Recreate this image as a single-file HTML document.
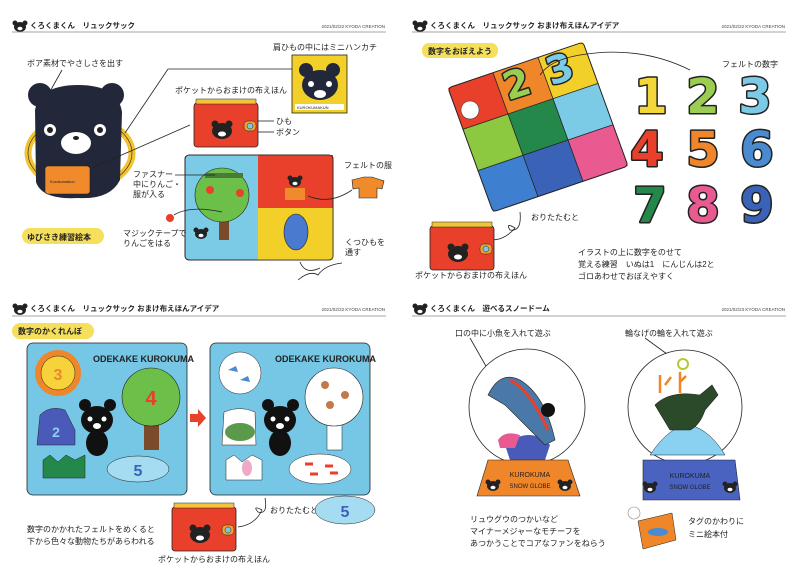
<!DOCTYPE html>
<html><head><meta charset="utf-8"><style>
body{margin:0;background:#fff}
svg{display:block}
text{font-family:"Liberation Sans","Noto Sans CJK JP",sans-serif;fill:#222}
.s{font-size:8px}
.h{font-size:7.5px;font-weight:bold}
.d{font-size:4.5px;fill:#444}
.n{font-family:"DejaVu Sans",sans-serif;font-weight:bold;font-size:48px;stroke:#222;stroke-width:3;paint-order:stroke;stroke-linejoin:round}
.ln{stroke:#222;stroke-width:0.8;fill:none}
</style></head><body>
<svg width="800" height="581" viewBox="0 0 800 581" xmlns="http://www.w3.org/2000/svg">
<defs>
<g id="bi"><ellipse cx="0" cy="0" rx="6" ry="5" fill="#222"/><circle cx="-5" cy="-4" r="2.5" fill="#222"/><circle cx="5" cy="-4" r="2.5" fill="#222"/><ellipse cx="0" cy="1.5" rx="2.5" ry="1.8" fill="#fff"/></g>
<g id="book"><rect x="0" y="0" width="64" height="44" rx="3" fill="#e8402a" stroke="#222" stroke-width="0.8"/><rect x="2" y="-4" width="60" height="5" fill="#f3c43a" stroke="#222" stroke-width="0.5"/><ellipse cx="28" cy="28" rx="10" ry="8" fill="#222"/><circle cx="21" cy="21" r="3.5" fill="#222"/><circle cx="35" cy="21" r="3.5" fill="#222"/><ellipse cx="28" cy="31" rx="4" ry="2.5" fill="#fff"/><rect x="50" y="18" width="12" height="10" rx="4" fill="#f3a030" stroke="#222" stroke-width="0.5"/><circle cx="56" cy="23" r="3" fill="#7cc8e0" stroke="#222" stroke-width="0.5"/></g>
</defs>

<!-- ============ Q1 ============ -->
<use href="#bi" x="20" y="27"/>
<text x="30" y="28" class="h">くろくまくん　リュックサック</text>
<text x="385" y="28" class="d" text-anchor="end">2021/02/22 KYODA CREATION</text>
<line x1="12" y1="32" x2="386" y2="32" stroke="#888" stroke-width="0.8"/>

<text x="27" y="66" class="s">ボア素材でやさしさを出す</text>
<line x1="62" y1="70" x2="48" y2="95" class="ln"/>
<ellipse cx="80" cy="153" rx="52" ry="35" fill="none" stroke="#f2c230" stroke-width="7"/>
<ellipse cx="80" cy="153" rx="52" ry="35" fill="none" stroke="#222" stroke-width="0.6"/>
<circle cx="40" cy="95" r="12" fill="#22273a"/><circle cx="112" cy="95" r="12" fill="#22273a"/>
<path d="M35 110 Q40 85 78 85 Q118 85 122 112 L120 180 Q110 200 78 198 Q42 200 36 182 Z" fill="#22273a"/>
<circle cx="50" cy="130" r="6" fill="#fff"/><circle cx="50" cy="130" r="3" fill="#222"/>
<circle cx="100" cy="130" r="6" fill="#fff"/><circle cx="100" cy="130" r="3" fill="#222"/>
<ellipse cx="76" cy="143" rx="15" ry="11" fill="#fff"/><ellipse cx="76" cy="138" rx="3" ry="2" fill="#222"/>
<rect x="45" y="166" width="45" height="28" rx="3" fill="#f08a2a" stroke="#222" stroke-width="0.6"/>
<text x="50" y="183" style="font-size:4px">Kurokumakun</text>
<rect x="22" y="228" width="82" height="16" rx="8" fill="#f6df5a"/>
<text x="27" y="240" class="s" style="font-weight:bold">ゆびさき練習絵本</text>

<text x="273" y="50" class="s">肩ひもの中にはミニハンカチ</text>
<rect x="292" y="55" width="55" height="58" fill="#f3cf2a" stroke="#222" stroke-width="0.8"/>
<circle cx="306" cy="70" r="7" fill="#22273a"/><circle cx="333" cy="70" r="7" fill="#22273a"/>
<ellipse cx="320" cy="85" rx="18" ry="15" fill="#22273a"/>
<circle cx="311" cy="84" r="3" fill="#fff"/><circle cx="329" cy="84" r="3" fill="#fff"/>
<ellipse cx="320" cy="94" rx="6" ry="4" fill="#fff"/>
<rect x="295" y="104" width="49" height="6" fill="#fff"/>
<text x="297" y="109" style="font-size:4px">KUROKUMAKUN</text>
<line x1="168" y1="69" x2="292" y2="69" class="ln"/>
<line x1="168" y1="69" x2="125" y2="133" class="ln"/>

<text x="175" y="93" class="s">ポケットからおまけの布えほん</text>
<use href="#book" x="194" y="103"/>
<line x1="190" y1="125" x2="92" y2="168" class="ln"/>
<line x1="258" y1="121" x2="274" y2="121" class="ln"/><text x="276" y="124" class="s">ひも</text>
<line x1="258" y1="132" x2="274" y2="132" class="ln"/><text x="276" y="135" class="s">ボタン</text>

<rect x="185" y="155" width="148" height="105" rx="4" fill="#7ccbe6" stroke="#222" stroke-width="0.8"/>
<rect x="258" y="155" width="75" height="53" fill="#e8402a"/>
<rect x="258" y="208" width="75" height="52" fill="#f3cf2a"/>
<rect x="185" y="155" width="148" height="105" rx="4" fill="none" stroke="#222" stroke-width="0.8"/>
<rect x="219" y="215" width="10" height="25" fill="#7a4a2a"/>
<circle cx="222" cy="195" r="27" fill="#6cc04a" stroke="#222" stroke-width="0.6"/>
<rect x="205" y="173" width="38" height="5" fill="#4a7a3a"/>
<circle cx="210" cy="190" r="4" fill="#e8402a"/><circle cx="240" cy="193" r="4" fill="#e8402a"/>
<use href="#bi" x="201" y="234"/>
<use href="#bi" x="295" y="182"/><rect x="285" y="188" width="20" height="12" fill="#f08a2a"/>
<ellipse cx="296" cy="232" rx="12" ry="18" fill="#4a7ad0" stroke="#222" stroke-width="0.6"/>
<line x1="175" y1="175" x2="215" y2="175" class="ln"/>
<text x="133" y="177" class="s">ファスナー</text><text x="133" y="187" class="s">中にりんご・</text><text x="133" y="197" class="s">服が入る</text>
<circle cx="170" cy="218" r="4" fill="#e8402a"/>
<path d="M174 215 Q190 205 222 212" class="ln"/>
<text x="123" y="236" class="s">マジックテープで</text><text x="123" y="246" class="s">りんごをはる</text>
<text x="344" y="168" class="s">フェルトの服</text>
<path d="M352 180 L364 177 L372 177 L384 181 L382 189 L377 188 L377 198 L359 198 L359 188 L353 189 Z" fill="#f08a2a" stroke="#222" stroke-width="0.6"/>
<path d="M308 196 Q330 205 352 190" class="ln"/>
<text x="345" y="245" class="s">くつひもを</text><text x="345" y="255" class="s">通す</text>
<path d="M300 262 Q305 275 320 268 M298 280 Q310 270 318 275 Q325 265 342 263" class="ln" stroke-width="1.5"/>

<!-- ============ Q2 ============ -->
<use href="#bi" x="420" y="27"/>
<text x="430" y="28" class="h">くろくまくん　リュックサック おまけ布えほんアイデア</text>
<text x="785" y="28" class="d" text-anchor="end">2021/02/22 KYODA CREATION</text>
<line x1="412" y1="32" x2="786" y2="32" stroke="#888" stroke-width="0.8"/>
<rect x="422" y="43" width="76" height="15" rx="7" fill="#f6df5a"/>
<text x="428" y="54" class="s" style="font-weight:bold">数字をおぼえよう</text>

<g transform="matrix(45,-15.3,15,41.3,448,88)">
<rect x="0" y="0" width="1" height="1" fill="#e8402a"/>
<rect x="1" y="0" width="1" height="1" fill="#f0862a"/>
<rect x="2" y="0" width="1" height="1" fill="#f3cf2a"/>
<rect x="0" y="1" width="1" height="1" fill="#8cc840"/>
<rect x="1" y="1" width="1" height="1" fill="#23884a"/>
<rect x="2" y="1" width="1" height="1" fill="#7ccbe6"/>
<rect x="0" y="2" width="1" height="1" fill="#3f7fd0"/>
<rect x="1" y="2" width="1" height="1" fill="#3a63b8"/>
<rect x="2" y="2" width="1" height="1" fill="#e85a90"/>
<path d="M1 0V3M2 0V3M0 1H3M0 2H3" stroke="#222" stroke-width="0.8" vector-effect="non-scaling-stroke" fill="none"/>
<rect x="0" y="0" width="3" height="3" rx="0.08" fill="none" stroke="#222" stroke-width="1" vector-effect="non-scaling-stroke"/>
</g>
<circle cx="470" cy="110" r="9" fill="#fff" stroke="#222" stroke-width="0.5"/>
<text x="517" y="97" class="n" text-anchor="middle" style="font-size:38px;fill:#9acd50" transform="rotate(-18 517 85)">2</text>
<text x="560" y="82" class="n" text-anchor="middle" style="font-size:38px;fill:#7ccbe6" transform="rotate(-18 560 70)">3</text>
<path d="M690 70 Q640 45 580 55 Q550 60 540 75" class="ln"/>
<text x="722" y="67" class="s">フェルトの数字</text>
<text x="651" y="113" class="n" text-anchor="middle" style="fill:#f3d73a">1</text>
<text x="703" y="113" class="n" text-anchor="middle" style="fill:#9acd50">2</text>
<text x="755" y="113" class="n" text-anchor="middle" style="fill:#7ccbe6">3</text>
<text x="647" y="166" class="n" text-anchor="middle" style="fill:#e8402a">4</text>
<text x="703" y="166" class="n" text-anchor="middle" style="fill:#f0862a">5</text>
<text x="757" y="166" class="n" text-anchor="middle" style="fill:#4a8ad0">6</text>
<text x="650" y="222" class="n" text-anchor="middle" style="fill:#23884a">7</text>
<text x="703" y="222" class="n" text-anchor="middle" style="fill:#e85a90">8</text>
<text x="757" y="222" class="n" text-anchor="middle" style="fill:#3a63b8">9</text>
<text x="531" y="220" class="s">おりたたむと</text>
<path d="M520 212 Q522 232 510 230 Q505 222 515 228 Q505 240 492 240" class="ln"/>
<use href="#book" x="430" y="226"/>
<text x="415" y="278" class="s">ポケットからおまけの布えほん</text>
<text x="578" y="255" class="s">イラストの上に数字をのせて</text>
<text x="578" y="267" class="s">覚える練習　いぬは1　にんじんは2と</text>
<text x="578" y="279" class="s">ゴロあわせでおぼえやすく</text>

<!-- ============ Q3 ============ -->
<use href="#bi" x="20" y="310"/>
<text x="30" y="311" class="h">くろくまくん　リュックサック おまけ布えほんアイデア</text>
<text x="385" y="311" class="d" text-anchor="end">2021/02/22 KYODA CREATION</text>
<line x1="12" y1="316" x2="386" y2="316" stroke="#888" stroke-width="0.8"/>
<rect x="12" y="323" width="82" height="16" rx="8" fill="#f6df5a"/>
<text x="18" y="334" class="s" style="font-weight:bold">数字のかくれんぼ</text>

<rect x="27" y="343" width="160" height="152" rx="6" fill="#76c6e6" stroke="#222" stroke-width="0.8"/>
<text x="93" y="362" style="font-size:9px;font-weight:bold;fill:#222">ODEKAKE KUROKUMA</text>
<circle cx="58" cy="373" r="23" fill="#f0862a"/><circle cx="58" cy="373" r="17" fill="#f6d33a" stroke="#222" stroke-width="0.5"/>
<text x="58" y="380" text-anchor="middle" style="font-size:16px;font-weight:bold;fill:#f0862a">3</text>
<path d="M37 445 L40 415 Q50 405 65 410 L75 430 L75 445 Z" fill="#4a5ab8" stroke="#222" stroke-width="0.5"/>
<text x="56" y="437" text-anchor="middle" style="font-size:14px;font-weight:bold;fill:#8ad0f0">2</text>
<path d="M43 460 L50 455 L58 462 L66 455 L75 460 L85 455 L85 478 L43 478 Z" fill="#23884a" stroke="#222" stroke-width="0.5"/>
<ellipse cx="138" cy="469" rx="31" ry="13" fill="#a6dcf2" stroke="#222" stroke-width="0.5"/>
<text x="138" y="476" text-anchor="middle" style="font-size:16px;font-weight:bold;fill:#3a63b8">5</text>
<rect x="144" y="420" width="15" height="30" fill="#7a4a2a"/>
<circle cx="151" cy="397" r="29" fill="#6cc04a" stroke="#222" stroke-width="0.6"/>
<text x="151" y="405" text-anchor="middle" style="font-size:20px;font-weight:bold;fill:#e8402a">4</text>
<circle cx="85" cy="405" r="6" fill="#111"/><circle cx="110" cy="405" r="6" fill="#111"/>
<ellipse cx="97" cy="420" rx="16" ry="14" fill="#111"/><ellipse cx="97" cy="443" rx="11" ry="13" fill="#111"/>
<circle cx="90" cy="419" r="2.5" fill="#fff"/><circle cx="104" cy="419" r="2.5" fill="#fff"/><ellipse cx="97" cy="426" rx="4" ry="3" fill="#fff"/>

<path d="M190 414 H198 V409 L206 418 L198 427 V422 H190 Z" fill="#e8402a"/>

<rect x="210" y="343" width="160" height="152" rx="6" fill="#76c6e6" stroke="#222" stroke-width="0.8"/>
<text x="275" y="362" style="font-size:9px;font-weight:bold;fill:#222">ODEKAKE KUROKUMA</text>
<circle cx="240" cy="373" r="21" fill="#fff" stroke="#222" stroke-width="0.5"/>
<path d="M228 370 l8 -4 l2 6 z M240 380 l8 -4 l2 6 z" fill="#4a8ad0"/>
<path d="M222 445 L224 412 Q240 405 255 412 L256 445 Z" fill="#fff" stroke="#222" stroke-width="0.5"/>
<ellipse cx="240" cy="432" rx="15" ry="9" fill="#5a9a4a"/>
<path d="M226 460 L234 455 L242 462 L252 455 L262 460 L262 480 L226 480 Z" fill="#fff" stroke="#222" stroke-width="0.5"/>
<ellipse cx="247" cy="468" rx="5" ry="8" fill="#f0a8c8"/>
<ellipse cx="320" cy="469" rx="31" ry="15" fill="#fff" stroke="#222" stroke-width="0.5"/>
<path d="M305 464 h8 M325 466 h8 M310 474 h8 M330 473 h8" stroke="#e8402a" stroke-width="3"/>
<rect x="327" y="420" width="15" height="30" fill="#fff" stroke="#222" stroke-width="0.5"/>
<circle cx="334" cy="397" r="29" fill="#fff" stroke="#222" stroke-width="0.6"/>
<circle cx="325" cy="385" r="4" fill="#c27a4a"/><circle cx="345" cy="395" r="4" fill="#c27a4a"/><circle cx="330" cy="405" r="4" fill="#c27a4a"/>
<circle cx="268" cy="405" r="6" fill="#111"/><circle cx="293" cy="405" r="6" fill="#111"/>
<ellipse cx="280" cy="420" rx="16" ry="14" fill="#111"/><ellipse cx="280" cy="443" rx="11" ry="13" fill="#111"/>
<circle cx="273" cy="419" r="2.5" fill="#fff"/><circle cx="287" cy="419" r="2.5" fill="#fff"/><ellipse cx="280" cy="426" rx="4" ry="3" fill="#fff"/>

<use href="#book" x="172" y="507"/>
<path d="M265 498 Q268 515 258 512 Q252 505 262 510 Q255 525 238 527" class="ln"/>
<text x="270" y="513" class="s">おりたたむと</text>
<ellipse cx="345" cy="510" rx="30" ry="14" fill="#a6dcf2" stroke="#222" stroke-width="0.5"/>
<text x="345" y="517" text-anchor="middle" style="font-size:16px;font-weight:bold;fill:#3a63b8">5</text>
<text x="27" y="532" class="s">数字のかかれたフェルトをめくると</text>
<text x="27" y="544" class="s">下から色々な動物たちがあらわれる</text>
<text x="158" y="562" class="s">ポケットからおまけの布えほん</text>

<!-- ============ Q4 ============ -->
<use href="#bi" x="420" y="310"/>
<text x="430" y="311" class="h">くろくまくん　遊べるスノードーム</text>
<text x="785" y="311" class="d" text-anchor="end">2021/02/23 KYODA CREATION</text>
<line x1="412" y1="316" x2="786" y2="316" stroke="#888" stroke-width="0.8"/>
<text x="455" y="336" class="s">口の中に小魚を入れて遊ぶ</text>
<line x1="470" y1="338" x2="491" y2="375" class="ln"/>
<circle cx="527" cy="407" r="58" fill="#fff" stroke="#222" stroke-width="0.8"/>
<path d="M505 445 Q530 425 550 445 L545 460 L510 460 Z" fill="#4a5ab8"/>
<path d="M498 440 Q505 430 520 435 L515 448 L500 448 Z" fill="#e85a90"/>
<path d="M488 395 Q500 370 520 380 Q545 395 555 440 L545 445 Q520 420 505 405 Z" fill="#4a78a8" stroke="#222" stroke-width="0.6"/>
<path d="M510 380 Q530 390 548 430" stroke="#e8402a" stroke-width="3" fill="none"/>
<circle cx="548" cy="410" r="7" fill="#111"/>
<path d="M488 460 L568 460 L580 496 L477 496 Z" fill="#f0862a" stroke="#222" stroke-width="0.6"/>
<text x="530" y="477" text-anchor="middle" style="font-size:7px;fill:#222">KUROKUMA</text>
<text x="530" y="488" text-anchor="middle" style="font-size:6px;fill:#222">SNOW GLOBE</text>
<use href="#bi" x="493" y="486"/><use href="#bi" x="565" y="486"/>

<text x="625" y="336" class="s">輪なげの輪を入れて遊ぶ</text>
<line x1="645" y1="338" x2="678" y2="362" class="ln"/>
<circle cx="685" cy="407" r="57" fill="#fff" stroke="#222" stroke-width="0.8"/>
<path d="M650 455 Q670 425 690 425 Q710 430 725 455 Z" fill="#8ad0f0" stroke="#222" stroke-width="0.5"/>
<path d="M655 405 Q670 390 700 395 L712 385 L718 395 L705 410 Q700 425 690 430 L670 430 Z" fill="#2a4a2a" stroke="#222" stroke-width="0.6"/>
<path d="M660 393 V375 M665 385 l6 -8 M680 393 V372 M680 382 l6 -6" stroke="#f0862a" stroke-width="2.5"/>
<circle cx="683" cy="364" r="5" fill="none" stroke="#b8c830" stroke-width="2"/>
<path d="M643 460 L735 460 L740 500 L643 500 Z" fill="#4a63c0" stroke="#222" stroke-width="0.6"/>
<text x="690" y="478" text-anchor="middle" style="font-size:7px;fill:#222">KUROKUMA</text>
<text x="690" y="489" text-anchor="middle" style="font-size:6px;fill:#222">SNOW GLOBE</text>
<use href="#bi" x="650" y="488"/><use href="#bi" x="730" y="488"/>

<text x="470" y="522" class="s">リュウグウのつかいなど</text>
<text x="470" y="534" class="s">マイナーメジャーなモチーフを</text>
<text x="470" y="546" class="s">あつかうことでコアなファンをねらう</text>
<circle cx="634" cy="513" r="6" fill="none" stroke="#888" stroke-width="0.6"/>
<path d="M638 521 L672 513 L676 540 L643 549 Z" fill="#f0862a" stroke="#222" stroke-width="0.5"/>
<ellipse cx="658" cy="532" rx="10" ry="4" fill="#4a8ad0"/>
<text x="688" y="524" class="s">タグのかわりに</text>
<text x="688" y="537" class="s">ミニ絵本付</text>
</svg>
</body></html>
